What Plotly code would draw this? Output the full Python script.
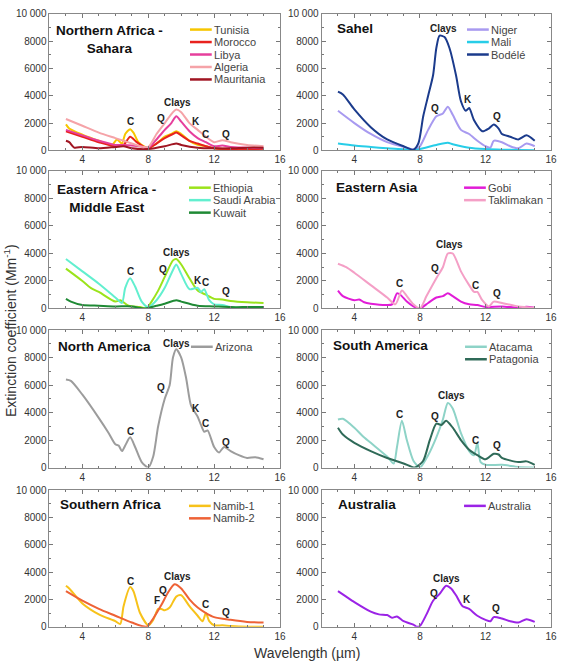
import plotly.graph_objects as go

# ---------------- data ----------------
# Northern Africa - Sahara
tunisia_x = [3, 3.2, 4, 5, 5.8, 6.1, 6.4, 6.6, 6.9, 7.1, 7.4, 7.8, 8, 8.5, 9, 9.4, 9.7, 10, 10.5, 11, 11.5, 12, 12.5, 13, 14, 15]
tunisia_y = [1900, 1600, 1150, 700, 400, 800, 500, 1200, 1550, 1300, 600, 250, 150, 500, 1000, 1200, 1400, 1200, 700, 400, 300, 150, 100, 100, 100, 100]
morocco_x = [3, 4, 5, 6, 6.5, 6.9, 7.3, 7.8, 8, 8.5, 9, 9.5, 9.7, 10, 10.5, 11, 11.5, 12, 13, 14, 15]
morocco_y = [1400, 1000, 600, 300, 400, 1000, 600, 200, 150, 500, 900, 1200, 1300, 1100, 700, 500, 300, 150, 100, 100, 0]
libya_x = [3, 4, 5, 6, 6.5, 7.5, 8, 8.5, 9, 9.4, 9.7, 10, 10.5, 11, 11.5, 12, 12.5, 13, 14, 15]
libya_y = [1500, 1100, 700, 400, 400, 300, 200, 800, 1500, 2000, 2500, 2100, 1400, 900, 600, 300, 350, 250, 200, 150]
algeria_x = [3, 4, 5, 6, 6.5, 7, 7.5, 8, 8.5, 9, 9.5, 9.7, 10, 10.5, 11, 11.5, 12, 12.5, 13, 14, 15]
algeria_y = [2300, 1800, 1300, 900, 700, 500, 300, 250, 1200, 2000, 2800, 3000, 2800, 2000, 1500, 1000, 600, 750, 600, 400, 300]
mauritania_x = [3, 3.2, 3.5, 4, 5, 6, 6.5, 7, 8, 9, 9.7, 10, 11, 12, 13, 14, 15]
mauritania_y = [700, 600, 200, 250, 150, 250, 300, 150, 100, 300, 500, 400, 200, 150, 150, 200, 200]

# Sahel
niger_x = [3, 4, 5, 6, 7, 7.7, 8, 8.5, 9, 9.4, 9.7, 10, 10.5, 11, 11.5, 12, 12.3, 12.5, 13, 13.5, 14, 14.5, 15]
niger_y = [2900, 2000, 1200, 600, 250, 50, 300, 1500, 2500, 2700, 3200, 2600, 1500, 1200, 700, 300, 200, 700, 600, 300, 150, 500, 300]
mali_x = [3, 4, 5, 6, 7, 7.7, 8, 9, 9.7, 10, 11, 12, 13, 14, 15]
mali_y = [500, 350, 250, 150, 80, 0, 100, 400, 550, 450, 200, 100, 50, 30, 0]
bodele_x = [3, 3.3, 4, 5, 6, 7, 7.6, 7.9, 8.2, 8.5, 8.8, 9, 9.2, 9.5, 9.8, 10.2, 10.5, 10.8, 11, 11.3, 11.8, 12.2, 12.5, 12.8, 13, 13.5, 14, 14.5, 15]
bodele_y = [4300, 4100, 3000, 1700, 800, 300, 50, 500, 2500, 4000, 5500, 7500, 8400, 8300, 7500, 5500, 3600, 2900, 3100, 2200, 1400, 1600, 1900, 1600, 1200, 1000, 800, 1100, 700]

# Eastern Africa - Middle East
ethiopia_x = [3, 4, 4.5, 5, 6, 6.3, 6.8, 7.5, 7.9, 8.2, 8.6, 9, 9.5, 9.7, 10, 10.5, 11, 11.5, 12, 12.5, 13, 14, 15]
ethiopia_y = [2900, 2000, 1500, 1200, 500, 600, 200, 100, 0, 500, 1300, 2300, 3500, 3600, 3200, 2200, 1300, 1000, 700, 650, 550, 450, 400]
saudi_x = [3, 4, 5, 6, 6.4, 6.6, 6.9, 7.2, 7.6, 8, 8.5, 9, 9.5, 9.7, 10, 10.5, 11, 11.2, 11.4, 11.7, 12, 12.5, 13, 14, 14.5, 15]
saudi_y = [3600, 2700, 1800, 800, 400, 1500, 2200, 1600, 500, 100, 600, 1500, 2800, 3200, 2500, 1400, 1500, 1200, 1400, 600, 300, 250, 100, 0, 100, 0]
kuwait_x = [3, 3.3, 4, 5, 6, 7, 7.8, 8.5, 9, 9.7, 10, 11, 12, 13, 14, 15]
kuwait_y = [700, 500, 250, 200, 150, 150, 0, 200, 350, 600, 500, 200, 150, 100, 100, 100]

# Eastern Asia
gobi_x = [3, 3.3, 4, 4.3, 4.6, 5, 6, 6.3, 6.6, 6.8, 7.2, 7.6, 8, 8.5, 9, 9.4, 9.7, 10, 10.5, 11, 11.5, 12, 13, 14, 14.5, 15]
gobi_y = [1300, 900, 600, 650, 450, 350, 250, 300, 1100, 1000, 500, 150, 0, 400, 800, 900, 1100, 900, 500, 300, 250, 100, 150, 50, 120, 50]
takla_x = [3, 3.5, 4, 5, 6, 6.5, 6.9, 7.2, 7.6, 8, 8.4, 9, 9.4, 9.7, 10, 10.5, 11, 11.3, 11.5, 11.8, 12.2, 12.5, 13, 14, 15]
takla_y = [3250, 3000, 2600, 1700, 800, 300, 1300, 900, 300, 0, 900, 2200, 3000, 4000, 4000, 2700, 1700, 1200, 1200, 600, 150, 500, 400, 150, 50]

# North America
arizona_x = [3, 3.3, 4, 5, 5.6, 6, 6.2, 6.4, 6.6, 6.9, 7.2, 7.6, 8, 8.3, 8.6, 9, 9.3, 9.5, 9.7, 10, 10.3, 10.6, 11, 11.2, 11.4, 11.6, 12, 12.3, 12.6, 13, 13.5, 14, 14.5, 15]
arizona_y = [6400, 6300, 5300, 3600, 2500, 1700, 1600, 1200, 1600, 2200, 1500, 400, 0, 800, 3000, 5000, 6000, 8000, 8600, 8000, 6500, 4500, 3700, 3100, 2600, 2700, 1500, 1100, 1500, 1200, 900, 700, 750, 600]

# South America
atacama_x = [3, 3.3, 4, 4.5, 5, 6, 6.4, 6.6, 6.9, 7.2, 7.6, 8, 8.5, 9, 9.4, 9.7, 10, 10.5, 11, 11.3, 11.5, 11.7, 12, 13, 14, 15]
atacama_y = [3500, 3550, 2900, 2300, 1800, 800, 300, 1500, 3400, 2000, 500, 0, 900, 2200, 3500, 4700, 4300, 2500, 1200, 900, 1800, 400, 200, 200, 50, 0]
patagonia_x = [3, 3.3, 4, 5, 6, 7, 7.7, 8.2, 8.6, 9, 9.3, 9.6, 10, 10.5, 11, 11.5, 12, 12.5, 12.8, 13, 14, 14.5, 15]
patagonia_y = [2900, 2400, 1800, 1200, 700, 300, 0, 500, 2000, 3200, 3100, 3400, 2900, 2000, 1300, 900, 600, 1000, 950, 700, 400, 450, 200]

# Southern Africa
namib1_x = [3, 3.2, 4, 5, 6, 6.3, 6.5, 6.9, 7.1, 7.5, 8, 8.3, 8.6, 8.8, 9, 9.3, 9.7, 10, 10.5, 11, 11.3, 11.5, 11.7, 12, 12.5, 13, 14, 15]
namib1_y = [3000, 2800, 1700, 900, 400, 200, 1500, 2900, 2600, 1000, 100, 500, 1300, 1300, 1200, 1400, 2200, 2300, 1500, 800, 400, 1000, 400, 100, 100, 50, 0, 0]
namib2_x = [3, 4, 5, 6, 7, 7.9, 8.3, 8.8, 9.2, 9.6, 10, 10.5, 11, 11.5, 12, 13, 14, 15]
namib2_y = [2600, 1900, 1300, 800, 300, 0, 600, 1600, 2500, 3100, 2800, 2000, 1400, 1000, 700, 500, 350, 300]

# Australia
australia_x = [3, 3.5, 4, 5, 5.5, 6, 6.3, 6.6, 7, 7.6, 7.8, 8, 8.4, 8.8, 9.2, 9.6, 9.9, 10.2, 10.6, 11, 11.5, 12, 12.3, 12.5, 13, 13.5, 14, 14.5, 15]
australia_y = [2600, 2200, 1800, 1100, 900, 850, 650, 750, 400, 150, 0, 50, 900, 1900, 2400, 3000, 2800, 2300, 1500, 1300, 800, 500, 400, 700, 600, 400, 300, 550, 350]

x_ticks = [4, 8, 12, 16]
y_ticks = [0, 2000, 4000, 6000, 8000, 10000]
y_ticktext = ["0", "2000", "4000", "6000", "8000", "10 000"]

panels = [
    dict(title="Northern Africa -<br>Sahara", title_center=True,
         series=[("Tunisia", tunisia_x, tunisia_y, "#F7C600"),
                 ("Morocco", morocco_x, morocco_y, "#E8221E"),
                 ("Libya", libya_x, libya_y, "#E63F9C"),
                 ("Algeria", algeria_x, algeria_y, "#F5A3A8"),
                 ("Mauritania", mauritania_x, mauritania_y, "#A01522")],
         labels=[("C", 6.95, 2090), ("Q", 8.8, 2300), ("Clays", 9.8, 3500), ("K", 10.9, 2150), ("C", 11.5, 1150), ("Q", 12.7, 1150)]),
    dict(title="Sahel", title_center=False,
         series=[("Niger", niger_x, niger_y, "#A89AF0"),
                 ("Mali", mali_x, mali_y, "#27CDE8"),
                 ("Bodélé", bodele_x, bodele_y, "#1B3B8C")],
         labels=[("Clays", 9.45, 8900), ("Q", 8.9, 3100), ("K", 10.95, 3740), ("Q", 12.7, 2450)]),
    dict(title="Eastern Africa -<br>Middle East", title_center=True,
         series=[("Ethiopia", ethiopia_x, ethiopia_y, "#9BE31B"),
                 ("Saudi Arabia", saudi_x, saudi_y, "#62EFCF"),
                 ("Kuwait", kuwait_x, kuwait_y, "#1F8A35")],
         labels=[("Clays", 9.7, 4070), ("C", 6.95, 2710), ("Q", 8.9, 2860), ("K", 11.0, 2070), ("C", 11.5, 1860), ("Q", 12.7, 1210)]),
    dict(title="Eastern Asia", title_center=False,
         series=[("Gobi", gobi_x, gobi_y, "#E11CD7"),
                 ("Taklimakan", takla_x, takla_y, "#F49FC6")],
         labels=[("Clays", 9.8, 4640), ("Q", 8.9, 2930), ("C", 6.75, 1790), ("C", 11.4, 1640), ("Q", 12.7, 1070)]),
    dict(title="North America", title_center=False,
         series=[("Arizona", arizona_x, arizona_y, "#9C9C9C")],
         labels=[("Clays", 9.7, 9000), ("Q", 8.8, 5860), ("K", 10.9, 4290), ("C", 11.5, 3210), ("C", 6.95, 2640), ("Q", 12.7, 1860)]),
    dict(title="South America", title_center=False,
         series=[("Atacama", atacama_x, atacama_y, "#8ED3C7"),
                 ("Patagonia", patagonia_x, patagonia_y, "#2F6A58")],
         labels=[("Clays", 9.9, 5210), ("C", 6.75, 3850), ("Q", 8.9, 3710), ("C", 11.4, 2000), ("Q", 12.7, 1570)]),
    dict(title="Southern Africa", title_center=False,
         series=[("Namib-1", namib1_x, namib1_y, "#F7C21A"),
                 ("Namib-2", namib2_x, namib2_y, "#EE6236")],
         labels=[("C", 6.95, 3310), ("Clays", 9.8, 3670), ("Q", 8.9, 2660), ("F", 8.5, 1940), ("C", 11.5, 1650), ("Q", 12.7, 1010)]),
    dict(title="Australia", title_center=False,
         series=[("Australia", australia_x, australia_y, "#9B23E6")],
         labels=[("Clays", 9.63, 3530), ("Q", 8.85, 2450), ("K", 10.9, 2020), ("Q", 12.65, 1300)]),
]

# ---------------- layout geometry (pixels) ----------------
W, H = 568, 669
col_x = [(50, 283), (325, 557)]
row_y = [(8, 147), (168, 308), (330, 470), (493, 632)]
legend_pos = [(192, 24), (472, 24), (191, 185), (469, 185), (193, 347), (470, 347), (191, 509), (469, 509)]
title_pos = [(111, 23), (339, 23), (108, 185), (338, 185), (57, 347), (335, 346), (59, 508), (340, 508)]

fig = go.Figure()
layout = dict(width=W, height=H, margin=dict(l=0, r=0, t=0, b=0),
              paper_bgcolor="white", plot_bgcolor="white", showlegend=False,
              font=dict(family="Liberation Sans, Arial, sans-serif", color="#333333"))
shapes = []
annotations = []
LEG_DY = 12.7

for i, p in enumerate(panels):
    r, c = divmod(i, 2)
    xa = "x" if i == 0 else f"x{i+1}"
    ya = "y" if i == 0 else f"y{i+1}"
    xkey = "xaxis" if i == 0 else f"xaxis{i+1}"
    ykey = "yaxis" if i == 0 else f"yaxis{i+1}"
    x0, x1 = col_x[c]
    y0, y1 = row_y[r]
    layout[xkey] = dict(domain=[x0 / W, x1 / W], anchor=ya, range=[2, 16],
                        tickvals=x_ticks, ticks="inside", ticklen=4, tickcolor="#777",
                        showline=True, linecolor="#888", linewidth=1, mirror="ticks",
                        showgrid=False, zeroline=False, tickfont=dict(size=10, color="#333"),
                        minor=dict(dtick=1, tick0=0, ticks="inside", ticklen=2, tickcolor="#777"))
    layout[ykey] = dict(domain=[1 - y1 / H, 1 - y0 / H], anchor=xa, range=[0, 10000],
                        tickvals=y_ticks, ticktext=y_ticktext, ticks="inside", ticklen=4, tickcolor="#777",
                        showline=True, linecolor="#888", linewidth=1, mirror="ticks",
                        showgrid=False, zeroline=False, tickfont=dict(size=10, color="#333"),
                        minor=dict(dtick=1000, tick0=0, ticks="inside", ticklen=2, tickcolor="#777"))
    pw, ph = x1 - x0, y1 - y0
    for name, xs, ys, col in p["series"]:
        fig.add_trace(go.Scatter(x=xs, y=ys, mode="lines", name=name, xaxis=xa, yaxis=ya,
                                 line=dict(color=col, width=2, shape="spline", smoothing=0.7),
                                 cliponaxis=True))
    lx, ly = legend_pos[i]
    for k, (name, xs, ys, col) in enumerate(p["series"]):
        py = ly + k * LEG_DY
        yd = (y1 - py) / ph
        shapes.append(dict(type="line", xref=f"{xa} domain", yref=f"{ya} domain",
                           x0=(lx - x0) / pw, x1=(lx + 22 - x0) / pw, y0=yd, y1=yd,
                           line=dict(color=col, width=2.5)))
        annotations.append(dict(text=name, xref=f"{xa} domain", yref=f"{ya} domain",
                                x=(lx + 22 - x0) / pw, y=yd, xanchor="left", yanchor="middle",
                                showarrow=False, font=dict(size=11, color="#444")))
    tx, ty = title_pos[i]
    if p["title_center"]:
        annotations.append(dict(text=f"<b>{p['title']}</b>", xref=f"{xa} domain", yref=f"{ya} domain",
                                x=(tx - x0) / pw, y=(y1 - ty + 8) / ph, xanchor="center", yanchor="top",
                                align="center", showarrow=False, font=dict(size=13.5, color="#111")))
    else:
        annotations.append(dict(text=f"<b>{p['title']}</b>", xref=f"{xa} domain", yref=f"{ya} domain",
                                x=(tx - x0) / pw, y=(y1 - ty) / ph, xanchor="left", yanchor="middle",
                                showarrow=False, font=dict(size=13.5, color="#111")))
    for txt, lxv, lyv in p["labels"]:
        annotations.append(dict(text=f"<b>{txt}</b>", x=lxv, y=lyv, xref=xa, yref=ya,
                                showarrow=False, font=dict(size=10, color="#222")))

annotations.append(dict(text="Extinction coefficient (Mm<sup>-1</sup>)", xref="paper", yref="paper",
                        x=10 / W, y=1 - 330 / H, textangle=-90, showarrow=False,
                        xanchor="center", yanchor="middle", font=dict(size=14, color="#333")))
annotations.append(dict(text="Wavelength (µm)", xref="paper", yref="paper",
                        x=310 / W, y=1 - 659 / H, showarrow=False,
                        xanchor="center", yanchor="middle", font=dict(size=14, color="#333")))

layout["shapes"] = shapes
layout["annotations"] = annotations
fig.update_layout(**layout)
fig.write_html("out.html")
